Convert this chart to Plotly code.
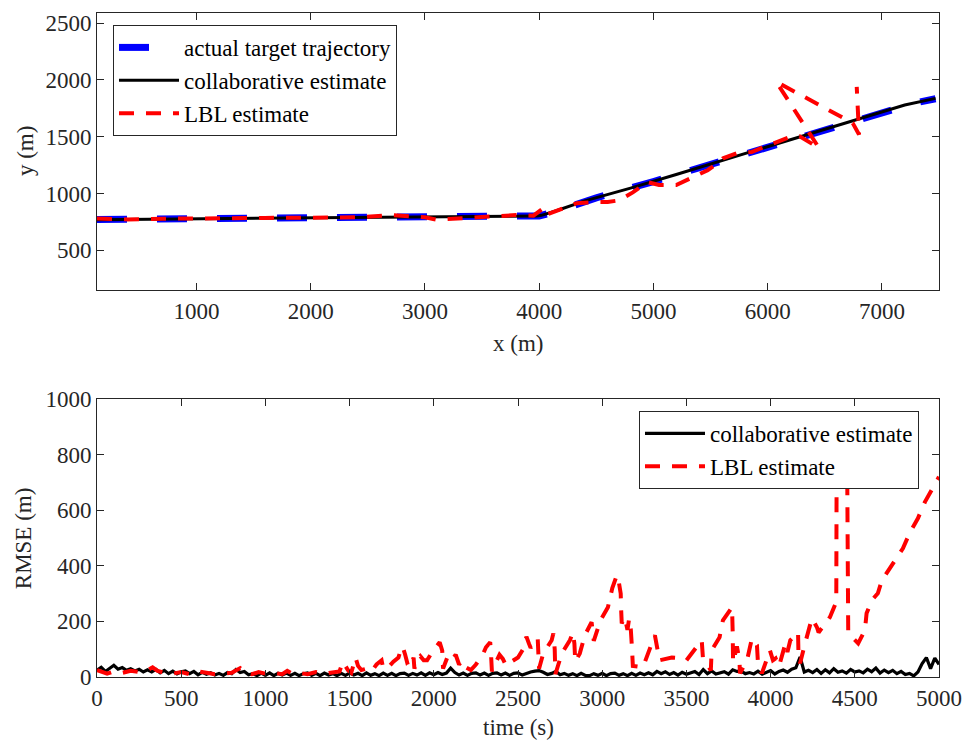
import numpy as np
import plotly.graph_objects as go

# ---- trajectory (top panel) ----
truth_x = [130, 500, 1000, 1500, 2000, 2500, 3000, 3500, 3950, 4000, 4100, 4200,
           4500, 5000, 5500, 6000, 6500, 7000, 7300, 7470]
truth_y = [772, 774, 776, 781, 786, 790, 795, 798, 800, 803, 828, 862,
           962, 1105, 1258, 1410, 1568, 1722, 1800, 1835]

collab_x = [130, 600, 1200, 1800, 2400, 3000, 3600, 3980, 4020, 4150, 4400, 4800,
            5200, 5600, 6000, 6400, 6800, 7200, 7470]
collab_y = [770, 774, 778, 784, 789, 795, 799, 801, 808, 848, 935, 1048,
            1168, 1290, 1412, 1538, 1662, 1780, 1838]

lbl_x = [130, 400, 700, 1000, 1300, 1600, 2000, 2400, 2700, 2800, 3000, 3100,
         3200, 3500, 3800, 3950, 4000, 4050, 4080, 4200, 4330, 4500, 4600, 4700,
         4820, 4950, 5050, 5200, 5340, 5475, 5560, 5610, 5730, 5860, 5970, 6120,
         6200, 6280, 6450, 6075, 6745, 6800, 6780]
lbl_y = [780, 772, 778, 776, 782, 785, 785, 790, 810, 805, 790, 770,
         775, 795, 810, 805, 840, 880, 820, 870, 915, 925, 925, 940,
         1010, 1100, 1075, 1075, 1145, 1205, 1265, 1310, 1355, 1365, 1410, 1470,
         1500, 1505, 1400, 1985, 1620, 1520, 1940]

# ---- RMSE over time (bottom panel) ----
t_collab = np.arange(0, 5001, 25)
rmse_collab = [25, 35, 20, 30, 42,
               28, 34, 24, 30, 22, 28, 18, 26,
               18, 27, 15, 24, 12, 21, 11, 19,
               22, 12, 20, 8, 17, 10, 15, 7,
               13, 6, 16, 12, 27, 16, 20, 8,
               12, 5, 14, 6, 15, 5, 13, 7,
               14, 6, 13, 5, 12, 15, 6, 13,
               5, 14, 7, 12, 5, 13, 6, 14,
               7, 13, 5, 15, 6, 12, 5, 14,
               6, 13, 5, 12, 14, 6, 13, 7,
               15, 6, 15, 8, 16, 9, 14, 32,
               16, 7, 14, 6, 13, 15, 7, 14,
               6, 13, 15, 7, 14, 6, 13, 15,
               7, 14, 18, 21, 23, 17, 9, 13,
               20, 8, 13, 6, 12, 5, 13, 6,
               5, 12, 6, 13, 5, 12, 14, 6,
               12, 5, 13, 6, 14, 8, 15, 8,
               20, 12, 19, 9, 16, 7, 17, 10,
               16, 20, 9, 27, 12, 22, 11, 15,
               19, 10, 26, 20, 21, 12, 16, 11,
               21, 10, 18, 23, 11, 20, 25, 17,
               28, 33, 72, 18, 24, 16, 27, 13,
               26, 15, 30, 17, 22, 14, 27, 18,
               22, 15, 28, 19, 32, 14, 25, 16,
               24, 12, 20, 9, 13, 4, 18, 48,
               70, 30, 68, 45]

t_lbl = [0, 30, 60, 100, 150, 200, 250, 300, 330, 360, 400, 450, 500, 550, 600,
         650, 700, 750, 800, 850, 880, 920, 960, 1000, 1050, 1100, 1130, 1160,
         1200, 1250, 1300, 1350, 1400, 1440, 1460, 1490, 1510, 1535, 1550, 1570,
         1600, 1630, 1660, 1690, 1700, 1730, 1760, 1790, 1800, 1815, 1830, 1845,
         1860, 1880, 1885, 1900, 1920, 1940, 1960, 1990, 2035, 2050, 2055, 2080,
         2100, 2130, 2150, 2170, 2190, 2220, 2250, 2290, 2310, 2335, 2340, 2345,
         2370, 2390, 2410, 2430, 2460, 2500, 2530, 2550, 2565, 2575, 2617, 2620,
         2625, 2650, 2700, 2710, 2718, 2722, 2760, 2808, 2826, 2835, 2840, 2867,
         2897, 2937, 2945, 2950, 2990, 3034, 3060, 3087, 3095, 3110, 3112, 3116,
         3134, 3150, 3160, 3170, 3177, 3182, 3242, 3271, 3300, 3313, 3330, 3340,
         3413, 3477, 3500, 3532, 3591, 3598, 3645, 3650, 3697, 3717, 3771, 3775,
         3777, 3800, 3815, 3818, 3860, 3889, 3919, 3925, 3948, 3996, 4014, 4030,
         4050, 4088, 4100, 4117, 4163, 4165, 4175, 4200, 4220, 4245, 4275, 4285,
         4352, 4390, 4392, 4455, 4461, 4520, 4560, 4570, 4601, 4637, 4661, 4726,
         4786, 4828, 4875, 4916, 4964, 5000]
rmse_lbl = [25, 18, 12, 20, 15, 22, 18, 25, 35, 22, 15, 12, 18, 10, 20,
            15, 10, 12, 15, 32, 15, 10, 18, 12, 15, 10, 22, 12,
            15, 10, 18, 12, 15, 20, 55, 25, 15, 70, 40, 25,
            30, 20, 45, 60, 30, 35, 55, 70, 90, 110, 80, 45,
            35, 70, 30, 60, 75, 60, 60, 90, 125, 95, 30, 70,
            55, 80, 45, 60, 35, 25, 45, 80, 107, 125, 80, 20,
            55, 80, 65, 40, 55, 70, 100, 145, 120, 105, 140, 60,
            30, 85, 132, 157, 100, 10, 85, 132, 160, 120, 55, 85,
            150, 197, 150, 130, 204, 251, 320, 366, 355, 300, 250, 193,
            215, 170, 210, 170, 103, 40, 35, 78, 130, 150, 100, 60,
            70, 67, 60, 85, 132, 70, 24, 96, 143, 204, 251, 160,
            53, 110, 60, 13, 60, 139, 114, 49, 13, 96, 60, 67,
            38, 121, 90, 132, 161, 96, 49, 110, 160, 211, 179, 160,
            215, 270, 726, 730, 157, 121, 168, 229, 276, 301, 348, 409,
            463, 521, 571, 629, 683, 720]

FONT = "Liberation Serif, Times New Roman, serif"
INK = "#262626"

fig = go.Figure()

fig.add_trace(go.Scatter(x=truth_x, y=truth_y, mode="lines", name="actual target trajectory",
                         line=dict(color="#0000ff", width=7, dash="30px,30px"),
                         xaxis="x", yaxis="y", legend="legend"))
fig.add_trace(go.Scatter(x=collab_x, y=collab_y, mode="lines", name="collaborative estimate",
                         line=dict(color="black", width=3),
                         xaxis="x", yaxis="y", legend="legend"))
fig.add_trace(go.Scatter(x=lbl_x, y=lbl_y, mode="lines", name="LBL estimate",
                         line=dict(color="#ff0000", width=4, dash="15px,12px"),
                         xaxis="x", yaxis="y", legend="legend"))

fig.add_trace(go.Scatter(x=t_collab, y=rmse_collab, mode="lines", name="collaborative estimate",
                         line=dict(color="black", width=3.2),
                         xaxis="x2", yaxis="y2", legend="legend2"))
fig.add_trace(go.Scatter(x=t_lbl, y=rmse_lbl, mode="lines", name="LBL estimate",
                         line=dict(color="#ff0000", width=4, dash="15px,12px"),
                         xaxis="x2", yaxis="y2", legend="legend2"))

axis_common = dict(showline=True, linecolor=INK, linewidth=1, mirror="ticks",
                   ticks="inside", ticklen=7, tickcolor=INK, showgrid=False,
                   zeroline=False, automargin=False,
                   tickfont=dict(family=FONT, size=23, color=INK))

legend_common = dict(bgcolor="white", bordercolor=INK, borderwidth=1,
                     font=dict(family=FONT, size=23, color="black"),
                     itemwidth=60, tracegroupgap=0, xanchor="left", yanchor="top")

title_font = dict(family=FONT, size=23, color=INK)
axis_titles = [
    dict(text="x (m)", x=0.5, y=0.503, textangle=0),
    dict(text="y (m)", x=-0.0855, y=0.792, textangle=-90),
    dict(text="time (s)", x=0.5, y=-0.0768, textangle=0),
    dict(text="RMSE (m)", x=-0.0879, y=0.209, textangle=-90),
]

fig.update_layout(
    width=965, height=742,
    margin=dict(l=97, r=26, t=13, b=65),
    paper_bgcolor="white", plot_bgcolor="white",
    xaxis=dict(domain=[0, 1], range=[130, 7500], tickvals=[1000, 2000, 3000, 4000, 5000, 6000, 7000],
               anchor="y", **axis_common),
    yaxis=dict(domain=[0.5828, 1], range=[150, 2590], tickvals=[500, 1000, 1500, 2000, 2500],
               anchor="x", **axis_common),
    xaxis2=dict(domain=[0, 1], range=[0, 5000], tickvals=[0, 500, 1000, 1500, 2000, 2500, 3000, 3500, 4000, 4500, 5000],
                anchor="y2", **axis_common),
    yaxis2=dict(domain=[0, 0.4187], range=[0, 1000], tickvals=[0, 200, 400, 600, 800, 1000],
                anchor="x2", **axis_common),
    legend=dict(x=0.019, y=0.982, **legend_common),
    legend2=dict(x=0.6437, y=0.4006, **legend_common),
    showlegend=True,
    annotations=[dict(xref="paper", yref="paper", xanchor="center", yanchor="middle",
                      showarrow=False, font=title_font, **a) for a in axis_titles],
)

fig.write_html("out.html")
